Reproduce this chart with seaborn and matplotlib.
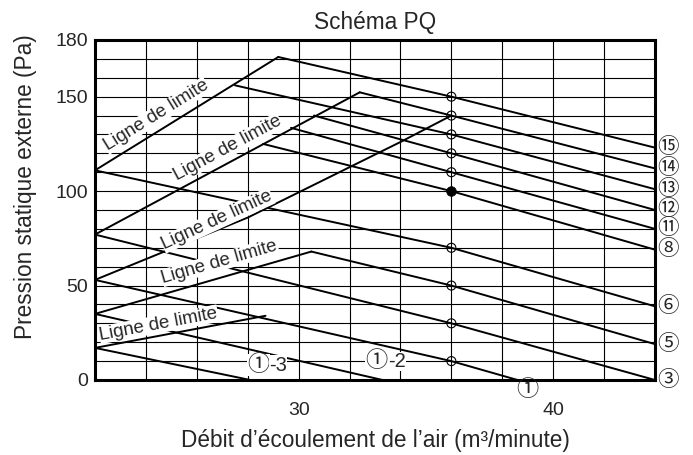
import numpy as np
import pandas as pd
import seaborn as sns
import matplotlib.pyplot as plt

# limit lines ("Ligne de limite")
limit_x = [[22, 29.2], [22, 32.4], [22, 28, 34, 36], [22, 30.5], [22, 28.7]]
limit_y = [[111, 171], [77, 152.3], [53, 86, 126, 140], [35, 68], [17, 34]]
limit_lbl_x = [24.4, 27.2, 26.8, 26.9, 24.5]
limit_lbl_y = [140, 122.5, 84.5, 62.5, 29.5]

# fan curves
fan_names = ['⑮', '⑭', '⑬', '⑫', '⑪', '⑧', '⑥', '⑤', '③', '①', '①-2', '①-3']
fan_x = [[29.2, 36, 44], [32.4, 36, 44], [27.5, 36, 44], [30.6, 36, 44],
         [29.7, 36, 44], [28.6, 36, 44], [22, 36, 44], [30.5, 36, 44],
         [22, 36, 44], [22, 36, 38.6], [22, 33.3], [22, 28.1]]
fan_y = [[171, 150, 123], [152.3, 140, 112], [156, 130, 101], [140, 120, 90],
         [133.5, 110, 80], [125, 100, 69], [111, 70, 39], [68, 50, 19],
         [77, 30, 0], [53, 10, 0], [35, 0], [17, 0]]

# points on the 36 m3/min line
pt_x = 36
pt_y = [150, 140, 130, 120, 110, 100, 70, 50, 30, 10]
pt_filled = [False, False, False, False, False, True, False, False, False, False]

sns.set_style("white")
plt.rcParams['font.family'] = ['Liberation Sans', 'Noto Sans CJK JP']

fig = plt.figure(figsize=(6.93, 4.55), dpi=100)
ax = fig.add_axes([95/693, 75/455, 560/693, 340/455])
ax.set_xlim(22, 44)
ax.set_ylim(0, 180)

ax.set_xticks([30, 40])
ax.set_xticks(np.arange(22, 45, 2), minor=True)
ax.set_yticks([0, 50, 100, 150, 180])
ax.set_yticks(np.arange(0, 181, 10), minor=True)
ax.grid(which='both', color='black', lw=0.8, zorder=0)
ax.tick_params(which='both', length=0, labelsize=14)
ax.tick_params(axis='x', pad=16)
ax.tick_params(axis='y', pad=5)
for s in ax.spines.values():
    s.set_linewidth(2.2)
    s.set_color('black')

for xs, ys in zip(limit_x, limit_y):
    df = pd.DataFrame({'x': xs, 'y': ys})
    sns.lineplot(data=df, x='x', y='y', ax=ax, color='black', lw=1.4, sort=False, zorder=3)
for xs, ys in zip(fan_x, fan_y):
    df = pd.DataFrame({'x': xs, 'y': ys})
    sns.lineplot(data=df, x='x', y='y', ax=ax, color='black', lw=1.4, sort=False, zorder=3)

pts = pd.DataFrame({'x': [pt_x]*len(pt_y), 'y': pt_y, 'f': pt_filled})
sns.scatterplot(data=pts[~pts.f], x='x', y='y', ax=ax, s=42, facecolor='none',
                edgecolor='black', linewidth=0.8, zorder=5)
sns.scatterplot(data=pts[pts.f], x='x', y='y', ax=ax, s=48, color='black',
                edgecolor='black', zorder=5)

fig.canvas.draw()
# limit labels, rotated along their line
for xs, ys, lx, ly in zip(limit_x, limit_y, limit_lbl_x, limit_lbl_y):
    p0 = ax.transData.transform((xs[0], ys[0]))
    p1 = ax.transData.transform((xs[-1], ys[-1]))
    ang = np.degrees(np.arctan2(p1[1]-p0[1], p1[0]-p0[0]))
    ax.text(lx, ly, 'Ligne de limite', rotation=ang, rotation_mode='anchor',
            ha='center', va='center', fontsize=13.4, zorder=4,
            bbox=dict(facecolor='white', edgecolor='none', pad=0.3))

# curve names on the right edge
for name, xs, ys in zip(fan_names, fan_x, fan_y):
    if xs[-1] == 44:
        ax.annotate(name, (44, ys[-1]), xytext=(9.5, 0), textcoords='offset points',
                    ha='center', va='center', fontsize=15.5, annotation_clip=False)
ax.annotate('①', (39, 0), xytext=(0, -7.5), textcoords='offset points',
            ha='center', va='center', fontsize=16, annotation_clip=False)
# ①-2 and ①-3 near the bottom
for cx, sx, yy, suf in [(33.06, 33.5, 9.8, '-2'), (28.43, 28.85, 7.9, '-3')]:
    ax.text(cx, yy, '①', ha='center', va='center', fontsize=16, zorder=4,
            bbox=dict(facecolor='white', edgecolor='none', pad=0.1))
    ax.text(sx, yy, suf, ha='left', va='center', fontsize=14.5, zorder=4,
            bbox=dict(facecolor='white', edgecolor='none', pad=0.1))

ax.set_title('Schéma PQ', fontsize=16.3, pad=8)
ax.set_xlabel('Débit d’écoulement de l’air (m³/minute)', fontsize=16.3, labelpad=7)
ax.set_ylabel('Pression statique externe (Pa)', fontsize=16.3)
ax.yaxis.set_label_coords(-0.104, 0.569)

fig.savefig('out.png', dpi=100)
